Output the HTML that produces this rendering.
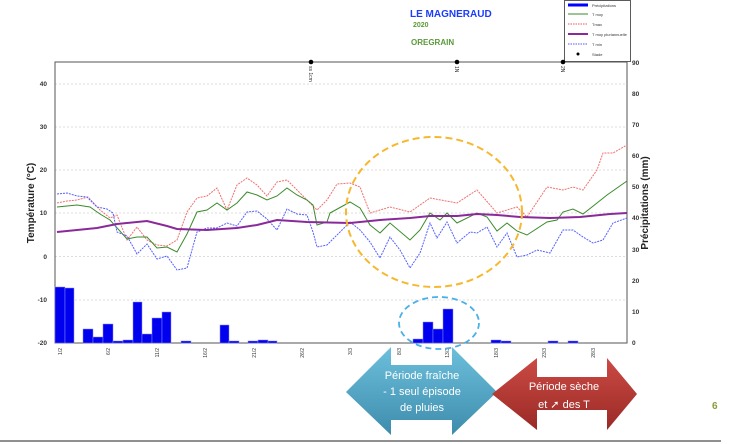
<!DOCTYPE html>
<html><head><meta charset="utf-8"><style>body{margin:0;background:#fff}svg{display:block}</style></head><body>
<svg width="747" height="444" viewBox="0 0 747 444" xmlns="http://www.w3.org/2000/svg" font-family="Liberation Sans, sans-serif">
<text x="410" y="17" font-size="10" font-weight="bold" fill="#1a3cff">LE MAGNERAUD</text>
<text x="413" y="27" font-size="7" font-weight="bold" fill="#5a9a3a">2020</text>
<text x="411" y="45" font-size="8" font-weight="bold" fill="#5a9a3a">OREGRAIN</text>
<rect x="564.5" y="0.5" width="66" height="61" fill="#fff" stroke="#333" stroke-width="0.8"/>
<g font-size="4" fill="#333">
<line x1="568" y1="5" x2="588" y2="5" stroke="#0000ff" stroke-width="3"/><text x="592" y="7">Précipitations</text>
<line x1="568" y1="14" x2="588" y2="14" stroke="#3a8a2a"/><text x="592" y="16">T moy</text>
<line x1="568" y1="24" x2="588" y2="24" stroke="#e55" stroke-dasharray="1.5,1"/><text x="592" y="26">Tmax</text>
<line x1="568" y1="34" x2="588" y2="34" stroke="#8a2a9a" stroke-width="2"/><text x="592" y="36">T moy pluriannuelle</text>
<line x1="568" y1="44" x2="588" y2="44" stroke="#55f" stroke-dasharray="1.5,1"/><text x="592" y="46">T min</text>
<circle cx="578" cy="54" r="1.5" fill="#000"/><text x="592" y="56">Stade</text>
</g>
<g stroke="#bbb" stroke-width="0.6" stroke-dasharray="2,2">
<line x1="55" y1="84" x2="627" y2="84"/><line x1="55" y1="127" x2="627" y2="127"/><line x1="55" y1="170" x2="627" y2="170"/><line x1="55" y1="213" x2="627" y2="213"/><line x1="55" y1="256.5" x2="627" y2="256.5"/><line x1="55" y1="300" x2="627" y2="300"/>
</g>
<rect x="55" y="62" width="572" height="281" fill="none" stroke="#555" stroke-width="1"/>
<g font-size="6.5" font-weight="bold" fill="#333" text-anchor="end">
<text x="47" y="86">40</text><text x="47" y="129">30</text><text x="47" y="172">20</text><text x="47" y="215">10</text><text x="47" y="259">0</text><text x="47" y="302">-10</text><text x="47" y="345">-20</text>
</g>
<g font-size="6.5" font-weight="bold" fill="#333">
<text x="632" y="65">90</text><text x="632" y="96">80</text><text x="632" y="127">70</text><text x="632" y="158">60</text><text x="632" y="189">50</text><text x="632" y="220">40</text><text x="632" y="252">30</text><text x="632" y="283">20</text><text x="632" y="314">10</text><text x="632" y="345">0</text>
</g>
<text transform="translate(34,203) rotate(-90)" font-size="10" font-weight="bold" text-anchor="middle" fill="#222">Température (°C)</text>
<text transform="translate(648,203) rotate(-90)" font-size="10" font-weight="bold" text-anchor="middle" fill="#222">Précipitations (mm)</text>
<g font-size="5" fill="#333">
<text transform="translate(62,348) rotate(-90)" text-anchor="end">1/2</text>
<text transform="translate(110,348) rotate(-90)" text-anchor="end">6/2</text>
<text transform="translate(159,348) rotate(-90)" text-anchor="end">11/2</text>
<text transform="translate(207,348) rotate(-90)" text-anchor="end">16/2</text>
<text transform="translate(256,348) rotate(-90)" text-anchor="end">21/2</text>
<text transform="translate(304,348) rotate(-90)" text-anchor="end">26/2</text>
<text transform="translate(352,348) rotate(-90)" text-anchor="end">3/3</text>
<text transform="translate(401,348) rotate(-90)" text-anchor="end">8/3</text>
<text transform="translate(449,348) rotate(-90)" text-anchor="end">13/3</text>
<text transform="translate(498,348) rotate(-90)" text-anchor="end">18/3</text>
<text transform="translate(546,348) rotate(-90)" text-anchor="end">23/3</text>
<text transform="translate(595,348) rotate(-90)" text-anchor="end">28/3</text>
<text transform="translate(309,66) rotate(90)">ss 1cm</text>
<text transform="translate(455,66) rotate(90)">1N</text>
<text transform="translate(561,66) rotate(90)">2N</text>
</g>
<circle cx="311" cy="62" r="2.3" fill="#000"/><circle cx="457" cy="62" r="2.3" fill="#000"/><circle cx="563" cy="62" r="2.3" fill="#000"/>
<g fill="#0000ee" stroke="#88f" stroke-width="0.5">
<rect x="55" y="287" width="10" height="56"/><rect x="65" y="288" width="9" height="55"/><rect x="83" y="329" width="10" height="14"/><rect x="93" y="337" width="10" height="6"/><rect x="103" y="324" width="10" height="19"/><rect x="113" y="341" width="10" height="2"/><rect x="123" y="340" width="10" height="3"/><rect x="133" y="302" width="9" height="41"/><rect x="142" y="334" width="10" height="9"/><rect x="152" y="318" width="10" height="25"/><rect x="162" y="312" width="9" height="31"/><rect x="181" y="341" width="10" height="2"/><rect x="220" y="325" width="9" height="18"/><rect x="229" y="341" width="10" height="2"/><rect x="248" y="341" width="10" height="2"/><rect x="258" y="340" width="10" height="3"/><rect x="268" y="341" width="9" height="2"/>
<rect x="413" y="339" width="10" height="4"/><rect x="423" y="322" width="10" height="21"/><rect x="433" y="329" width="10" height="14"/><rect x="443" y="309" width="10" height="34"/><rect x="491" y="340" width="10" height="3"/><rect x="501" y="341" width="10" height="2"/><rect x="548" y="341" width="10" height="2"/><rect x="568" y="341" width="10" height="2"/>
</g>
<polyline fill="none" stroke="#f07070" stroke-width="1" stroke-dasharray="2,1" points="57,203 67,201 77,200 88,197 100,210 110,218 117,215 127,240 137,227 147,240 157,245 167,246 177,240 187,212 197,198 207,196 217,188 227,210 237,185 247,178 257,185 267,196 277,182 287,180 297,190 307,200 317,210 327,200 337,184 350,183 360,187 370,213 390,207 410,212 430,198 457,203 477,190 497,213 517,207 527,217 547,187 563,190 573,187 583,190 597,170 603,153 613,153 627,145"/>
<polyline fill="none" stroke="#3a8a2a" stroke-width="1" points="57,207 77,205 90,207 100,214 110,220 127,239 137,237 147,237 157,248 167,247 177,252 187,234 197,212 207,210 217,203 227,210 237,203 247,192 257,195 267,200 277,196 287,188 297,195 307,200 313,205 317,225 327,222 330,213 350,202 360,208 370,225 380,233 390,223 410,240 420,230 430,213 440,220 447,213 457,223 477,213 487,217 497,231 507,223 517,231 527,235 547,222 557,220 563,212 573,209 583,214 597,203 607,195 627,181"/>
<polyline fill="none" stroke="#5560ff" stroke-width="1" stroke-dasharray="2,1" points="57,194 67,193 77,196 87,197 97,207 107,209 113,213 117,232 127,236 137,254 147,244 157,259 167,256 177,270 187,268 197,232 207,228 217,228 227,223 237,226 247,212 257,211 267,219 277,230 287,209 297,214 307,215 313,232 317,247 327,245 330,242 350,222 360,230 370,242 380,258 390,237 400,250 410,268 420,253 430,223 437,238 447,222 457,243 470,232 477,233 487,227 497,247 507,233 517,257 527,255 537,250 550,253 563,230 573,230 583,237 593,243 603,240 613,223 627,218"/>
<polyline fill="none" stroke="#8a2a9a" stroke-width="2" points="57,232 77,230 97,228 117,224 137,222 147,221 167,226 177,229 207,230 237,228 257,225 277,220 307,222 350,223 380,220 410,218 430,216 457,216 477,214 497,215 520,217 550,218 580,217 610,214 627,213"/>
<ellipse cx="434" cy="212" rx="88" ry="75" fill="none" stroke="#f5b82e" stroke-width="2" stroke-dasharray="7,4"/>
<ellipse cx="439" cy="323" rx="40" ry="26" fill="none" stroke="#4ab0e8" stroke-width="1.8" stroke-dasharray="6,4"/>
<defs>
<linearGradient id="gb" x1="0" y1="0" x2="0" y2="1"><stop offset="0" stop-color="#6cc0dc"/><stop offset="1" stop-color="#3e8cac"/></linearGradient>
<linearGradient id="gr" x1="0" y1="0" x2="0" y2="1"><stop offset="0" stop-color="#cc4a44"/><stop offset="1" stop-color="#9a2a26"/></linearGradient>
</defs>
<polygon points="346,392 391,347 391,365 452,365 452,347 497,392 452,435 452,420 391,420 391,435" fill="url(#gb)"/>
<polygon points="492,394 537,358 537,377 607,377 607,358 637,394 607,430 607,410 537,410 537,430" fill="url(#gr)"/>
<g font-size="11" fill="#fff" text-anchor="middle">
<text x="422" y="379">Période fraîche</text><text x="422" y="395">- 1 seul épisode</text><text x="422" y="411">de pluies</text>
<text x="564" y="390">Période sèche</text><text x="564" y="408">et ➚ des T</text>
</g>
<text x="712" y="409" font-size="10" font-weight="bold" fill="#8a9a3a">6</text>
<line x1="0" y1="441" x2="721" y2="441" stroke="#222" stroke-width="1"/>
</svg>
</body></html>
